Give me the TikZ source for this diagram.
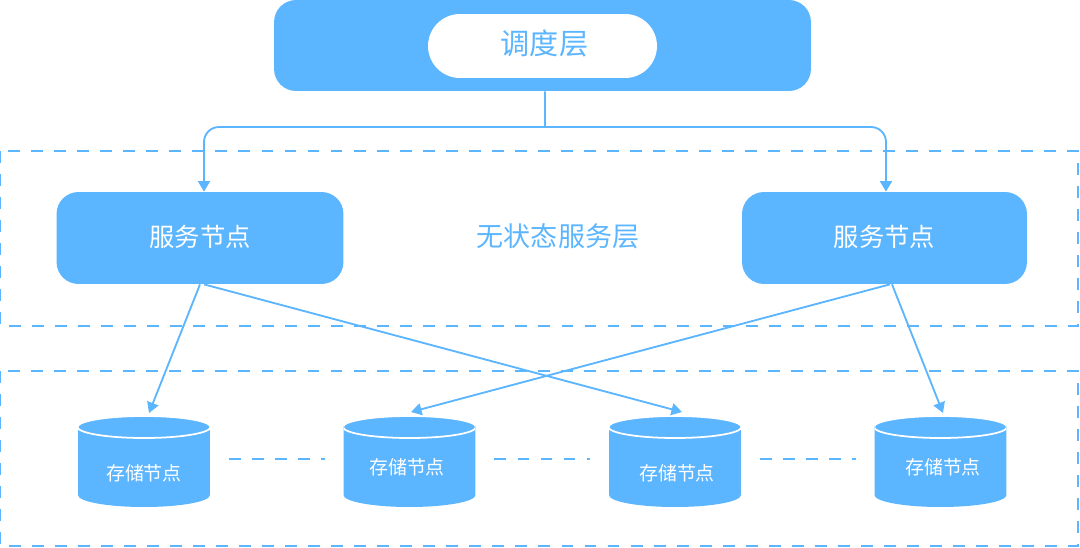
\documentclass[tikz,border=0pt]{standalone}
\usepackage{fontspec}
\setmainfont{Noto Sans CJK SC}
\usetikzlibrary{arrows.meta}
\definecolor{skyblue}{HTML}{5CB5FF}
\tikzset{
  boxnode/.style={fill=skyblue,text=white,rounded corners=0.44cm,inner sep=0pt},
  dbnode/.style={rectangle,minimum width=2.64cm,minimum height=1.82cm,inner sep=0pt,outer sep=0pt,
    path picture={
      \begin{scope}[shift={(path picture bounding box.center)}]
        \fill[skyblue] (-66,-34.5) -- (-66,33.5) arc[start angle=180,end angle=360,x radius=1.32cm,y radius=0.24cm] -- (66,-34.5) -- cycle;
        \filldraw[fill=skyblue,draw=white,line width=1pt] (0,-34.5) ellipse [x radius=1.33cm,y radius=0.22cm];
      \end{scope}
    }},
  dbtext/.style={text=white,font=\fontsize{10.8}{13}\selectfont,inner sep=0pt},
  frameline/.style={draw=skyblue,line width=1.1pt,dash pattern=on 6.8pt off 6.3pt},
  link/.style={draw=skyblue,line width=1.05pt,-{Triangle[length=6pt,width=6.8pt]}}
}
\begin{document}
\begin{tikzpicture}[x=0.02cm,y=-0.02cm]
  \useasboundingbox (0,0) rectangle (1080,548);

  \draw[frameline] (0,151) rectangle (1078,326);
  \draw[frameline] (0,371) rectangle (1078,546);

  \node[boxnode,minimum width=10.74cm,minimum height=1.82cm] (sched) at (542.5,45.5) {};
  \node[fill=white,rounded corners=0.64cm,minimum width=4.58cm,minimum height=1.28cm,inner sep=0pt] (schedpill) at (542.5,46) {};
  \node[text=skyblue,inner sep=0pt,font=\fontsize{16.6}{19}\selectfont] (schedtext) at (544.5,43.5) {调度层};

  \node[boxnode,minimum width=5.74cm,minimum height=1.84cm,font=\fontsize{14.4}{17}\selectfont,text depth=3pt] (svcA) at (200,238) {服务节点};
  \node[boxnode,minimum width=5.7cm,minimum height=1.84cm,font=\fontsize{14.4}{17}\selectfont,text depth=3pt] (svcB) at (884.5,238) {服务节点};
  \node[text=skyblue,inner sep=0pt,font=\fontsize{15.4}{18}\selectfont] (stateless) at (558,236) {无状态服务层};

  \node[dbnode] (dbA) at (144,461.5) {};
  \node[dbnode] (dbB) at (409.5,461.5) {};
  \node[dbnode] (dbC) at (675,461.5) {};
  \node[dbnode] (dbD) at (940.5,461.5) {};

  \node[dbtext] (dbAtext) at (144,473) {存储节点};
  \node[dbtext] (dbBtext) at (407,467) {存储节点};
  \node[dbtext] (dbCtext) at (677,473) {存储节点};
  \node[dbtext] (dbDtext) at (943,467) {存储节点};

  \coordinate (fork) at (545,127);
  \draw[draw=skyblue,line width=1.05pt] ([shift={(2.5,0)}]sched.south) -- (fork);
  \draw[link,rounded corners=0.3cm] (fork) -| ([shift={(4,0)}]svcA.north);
  \draw[link,rounded corners=0.3cm] (fork) -| ([shift={(1.5,0)}]svcB.north);

  \draw[link] (svcA.south) -- ([shift={(5,-3)}]dbA.north);
  \draw[link] ([shift={(4,0)}]svcA.south) -- ([shift={(7,-4)}]dbC.north);
  \draw[link] ([shift={(5.5,0)}]svcB.south) -- ([shift={(1.5,-4)}]dbB.north);
  \draw[link] ([shift={(7.5,0)}]svcB.south) -- ([shift={(2.5,-3)}]dbD.north);

  \begin{scope}[frameline]
    \draw ([shift={(19,-2.5)}]dbA.east) -- ([shift={(-19,-2.5)}]dbB.west);
    \draw ([shift={(19,-2.5)}]dbB.east) -- ([shift={(-19,-2.5)}]dbC.west);
    \draw ([shift={(19,-2.5)}]dbC.east) -- ([shift={(-19,-2.5)}]dbD.west);
  \end{scope}
\end{tikzpicture}
\end{document}
